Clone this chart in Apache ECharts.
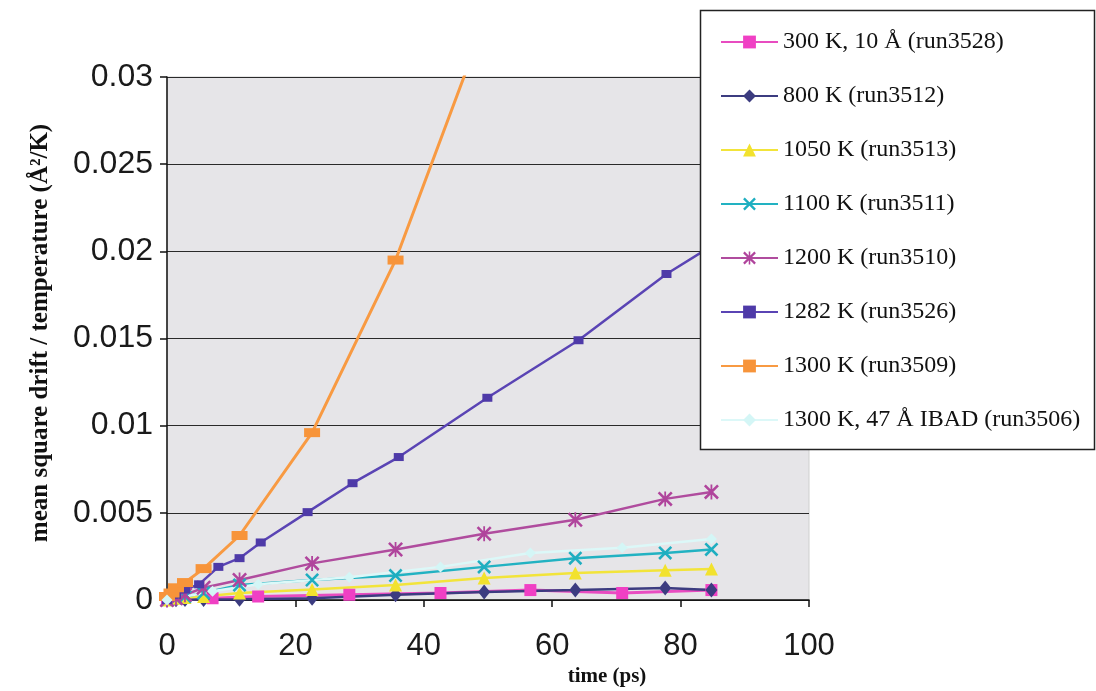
<!DOCTYPE html>
<html>
<head>
<meta charset="utf-8">
<script src="https://cdn.jsdelivr.net/npm/echarts@6/dist/echarts.min.js"></script>
<style>
html,body{margin:0;padding:0;background:#fff;}
#chart{width:1096px;height:691px;}
</style>
</head>
<body>
<div id="chart"></div>
<script>
// ---- data ----
const seriesNames = [
  '300 K, 10 Å (run3528)',
  '800 K (run3512)',
  '1050 K (run3513)',
  '1100 K (run3511)',
  '1200 K (run3510)',
  '1282 K (run3526)',
  '1300 K (run3509)',
  '1300 K, 47 Å IBAD (run3506)'
];
const tA = [0, 1.4, 2.8, 5.7, 11.3, 22.6, 35.6, 49.4, 63.6, 77.6, 84.8];
const tB = [0, 7.1, 14.2, 28.4, 42.6, 56.6, 70.9, 84.8];
const t1282 = [0, 1.4, 2.8, 5.0, 8.0, 11.3, 14.6, 21.9, 28.9, 36.1, 49.9, 64.1, 77.8, 84.8];
const t1300 = [0, 0.7, 1.4, 2.8, 5.7, 11.3, 22.6, 35.6, 49.4];

const v300  = [0, 0.0001, 0.0002, 0.0003, 0.0004, 0.00057, 0.0004, 0.00057];
const v800  = [0, 0.00002, 0.00003, 0.00003, 0.00005, 0.0001, 0.0003, 0.00046, 0.00057, 0.00069, 0.00057];
const v1050 = [0, 0.0001, 0.00015, 0.0002, 0.0004, 0.0006, 0.00086, 0.00126, 0.00155, 0.0017, 0.00178];
const v1100 = [0, 0.0001, 0.0002, 0.0004, 0.00086, 0.00115, 0.0014, 0.0019, 0.0024, 0.0027, 0.0029];
const v1200 = [0, 0.0001, 0.0003, 0.0007, 0.00115, 0.0021, 0.0029, 0.0038, 0.0046, 0.0058, 0.0062];
const v1282 = [0, 0.0003, 0.0006, 0.0009, 0.0019, 0.0024, 0.0033, 0.00504, 0.0067, 0.0082, 0.0116, 0.0149, 0.0187, 0.0203];
const v1300 = [0.0002, 0.0004, 0.0007, 0.001, 0.0018, 0.0037, 0.0096, 0.0195, 0.0331];
const vIBAD = [0, 0.0005, 0.0009, 0.0013, 0.0019, 0.0027, 0.003, 0.0035];

const xTickLabels = ['0', '20', '40', '60', '80', '100'];
const yTickLabels = ['0', '0.005', '0.01', '0.015', '0.02', '0.025', '0.03'];

const xTitle = 'time (ps)';
const yTitle = 'mean square drift / temperature (Å²/K)';

// ---- helpers ----
function pairs(t, v) { return t.map((x, i) => [x, v[i]]); }
const X_PATH = 'path://M0,1.3 L1.3,0 L10,8.7 L8.7,10 Z M8.7,0 L10,1.3 L1.3,10 L0,8.7 Z';
const AST_PATH = 'path://M0,1.2 L1.2,0 L10,8.8 L8.8,10 Z M8.8,0 L10,1.2 L1.2,10 L0,8.8 Z M4.4,0 L5.6,0 L5.6,10 L4.4,10 Z';

const styles = [
  {data: pairs(tB, v300),  color: '#f040c4', line: '#e84cc0', symbol: 'rect', size: 12, width: 3},
  {data: pairs(tA, v800),  color: '#3c3c80', line: '#3c3c80', symbol: 'diamond', size: [12, 15], width: 2.5},
  {data: pairs(tA, v1050), color: '#f2e22e', line: '#f2e43a', symbol: 'triangle', size: 13, width: 2.5},
  {data: pairs(tA, v1100), color: '#1eaec0', line: '#22b2c2', symbol: X_PATH, size: 14, width: 2.5},
  {data: pairs(tA, v1200), color: '#b0449c', line: '#b04c9e', symbol: AST_PATH, size: 15, width: 2.5},
  {data: pairs(t1282, v1282), color: '#4e3aa8', line: '#5a44b4', symbol: 'rect', size: [10, 8], width: 2.5},
  {data: pairs(t1300, v1300), color: '#f7943a', line: '#f89a42', symbol: 'rect', size: [16, 9], width: 3},
  {data: pairs(tB, vIBAD), color: '#d4f6f6', line: '#dcf8f8', symbol: 'diamond', size: 11, width: 2.5}
];

const series = styles.map((s, i) => ({
  name: seriesNames[i],
  type: 'line',
  data: s.data,
  symbol: s.symbol,
  symbolSize: s.size,
  showSymbol: true,
  clip: true,
  lineStyle: {color: s.line, width: s.width},
  itemStyle: {color: s.color},
  emphasis: {disabled: true},
  animation: false,
  z: 2
}));

const chart = echarts.init(document.getElementById('chart'), null, {renderer: 'canvas'});
chart.setOption({
  animation: false,
  backgroundColor: '#ffffff',
  grid: {
    left: 167, right: 287, top: 77, bottom: 91,
    show: true, backgroundColor: '#e6e5e8', borderColor: '#cfcfcf', borderWidth: 1
  },
  xAxis: {
    type: 'value', min: 0, max: 100, interval: 20,
    axisLine: {show: true, onZero: false, lineStyle: {color: '#111', width: 1.5}},
    axisTick: {show: true, inside: false, length: 7, lineStyle: {color: '#111', width: 1.5}},
    splitLine: {show: false},
    axisLabel: {
      margin: 31, fontFamily: 'Liberation Sans', fontSize: 31, color: '#1a1a1a',
      formatter: v => xTickLabels[Math.round(v / 20)]
    }
  },
  yAxis: {
    type: 'value', min: 0, max: 0.03, interval: 0.005,
    axisLine: {show: true, lineStyle: {color: '#111', width: 1.5}},
    axisTick: {show: true, inside: false, length: 7, lineStyle: {color: '#111', width: 1.5}},
    splitLine: {show: true, lineStyle: {color: '#2a2a2a', width: 1.2}},
    axisLabel: {
      margin: 14, fontFamily: 'Liberation Sans', fontSize: 32, color: '#1a1a1a',
      formatter: v => yTickLabels[Math.round(v / 0.005)]
    }
  },
  legend: {
    show: true,
    orient: 'vertical',
    left: 720, top: 30,
    itemWidth: 57, itemHeight: 16, itemGap: 30,
    padding: 0,
    data: seriesNames,
    textStyle: {fontFamily: 'Liberation Serif', fontSize: 24, color: '#111', lineHeight: 24},
    z: 5
  },
  graphic: [
    {type: 'rect', z: 4, shape: {x: 700.5, y: 10.5, width: 394, height: 439},
     style: {fill: '#ffffff', stroke: '#222', lineWidth: 1.5}},
    {type: 'text', z: 6, x: 41, y: 333, rotation: Math.PI / 2,
     style: {text: yTitle, fontFamily: 'Liberation Serif', fontWeight: 'bold', fontSize: 25,
             fill: '#111', textAlign: 'center', textVerticalAlign: 'middle'}},
    {type: 'text', z: 6, x: 607, y: 677,
     style: {text: xTitle, fontFamily: 'Liberation Serif', fontWeight: 'bold', fontSize: 21,
             fill: '#111', textAlign: 'center', textVerticalAlign: 'middle'}}
  ],
  series: series
});
</script>
</body>
</html>
